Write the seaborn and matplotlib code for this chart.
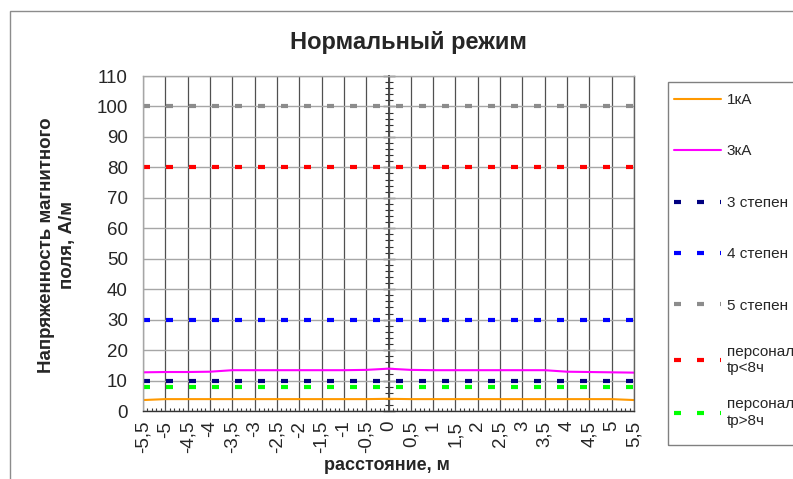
import numpy as np
import pandas as pd
import matplotlib
matplotlib.use("Agg")
import matplotlib.pyplot as plt
import seaborn as sns
from matplotlib.ticker import MultipleLocator, FixedLocator
from matplotlib.patches import Rectangle

# distance, m (category axis)
distance = [-5.5, -5, -4.5, -4, -3.5, -3, -2.5, -2, -1.5, -1, -0.5, 0,
            0.5, 1, 1.5, 2, 2.5, 3, 3.5, 4, 4.5, 5, 5.5]

h_1ka = [3.6, 3.9, 3.9, 3.9, 3.9, 3.9, 3.9, 3.9, 3.9, 3.9, 3.9, 4.0,
         3.9, 3.9, 3.9, 3.9, 3.9, 3.9, 3.9, 3.9, 3.9, 3.9, 3.6]
h_3ka = [12.7, 12.8, 12.8, 12.9, 13.4, 13.4, 13.4, 13.4, 13.4, 13.4, 13.5, 13.9,
         13.5, 13.4, 13.4, 13.4, 13.4, 13.4, 13.4, 12.9, 12.8, 12.7, 12.6]
lim_3 = [10] * 23
lim_4 = [30] * 23
lim_5 = [100] * 23
pers_lt8 = [80] * 23
pers_gt8 = [8] * 23

series = [
    ("1кА", h_1ka, "#FF9900", "solid"),
    ("3кА", h_3ka, "#FF00FF", "solid"),
    ("3 степен", lim_3, "#000080", "dash"),
    ("4 степен", lim_4, "#0000FF", "dash"),
    ("5 степен", lim_5, "#8C8C8C", "dash"),
    ("персонал\ntр<8ч", pers_lt8, "#FF0000", "dash"),
    ("персонал\ntр>8ч", pers_gt8, "#00FF00", "dash"),
]

sns.set_theme(style="white")
plt.rcParams['font.family'] = ['Liberation Sans', 'DejaVu Sans']

fig = plt.figure(figsize=(7.93, 4.79), dpi=100)
ax = fig.add_axes([143 / 793, 1 - 411 / 479, (634 - 143) / 793, (411 - 76) / 479])

for name, vals, col, kind in series:
    if kind == "solid":
        sns.lineplot(x=distance, y=vals, ax=ax, color=col, lw=1.5, label=name)
    else:
        sns.lineplot(x=distance, y=vals, ax=ax, color=col, lw=3,
                     linestyle=(0, (1.68, 3.84)), label=name)

ax.set_xlim(-5.5, 5.5)
ax.set_ylim(0, 110)
ax.xaxis.set_major_locator(FixedLocator(distance))
ax.xaxis.set_minor_locator(MultipleLocator(0.1))
ax.yaxis.set_major_locator(MultipleLocator(10))
ax.set_xticklabels([("%g" % v).replace(".", ",") for v in distance],
                   rotation=90, fontsize=13.5)
ax.tick_params(axis='y', labelsize=13.5, length=0, pad=11)
ax.tick_params(axis='x', which='major', direction='out', length=4, width=1,
               color='#333333', pad=3)
ax.tick_params(axis='x', which='minor', direction='in', length=2.5, width=0.8,
               color='#333333', bottom=True)
ax.set_axisbelow(True)
ax.grid(axis='y', color='#a6a6a6', lw=1)
ax.grid(axis='x', color='#505050', lw=0.9)
ax.set_xlabel("")
ax.set_ylabel("")
for s in ['top', 'left']:
    ax.spines[s].set_color('#a6a6a6')
ax.spines['right'].set_color('#606060')
ax.spines['bottom'].set_color('#333333')
for s in ax.spines.values():
    s.set_linewidth(1)

# value axis crossing at 0
sec = ax.secondary_yaxis(0.5)
sec.yaxis.set_major_locator(MultipleLocator(10))
sec.yaxis.set_minor_locator(MultipleLocator(2))
sec.tick_params(which='both', direction='inout', labelleft=False, labelright=False,
                color='#333333')
sec.tick_params(which='major', length=8, width=1)
sec.tick_params(which='minor', length=6, width=0.8)
for s in sec.spines.values():
    s.set_color('#333333')

# legend: Excel spreads entries evenly, so two frameless legends inside one box
handles, labels = ax.get_legend_handles_labels()
leg_kw = dict(loc='upper left', bbox_transform=fig.transFigure, borderaxespad=0,
              fontsize=11, handlelength=3.1, handletextpad=0.35, borderpad=0,
              frameon=False)
leg1 = ax.legend(handles[:5], labels[:5], bbox_to_anchor=(674 / 793, 1 - 93 / 479),
                 labelspacing=2.45, **leg_kw)
ax.add_artist(leg1)
leg2 = ax.legend(handles[5:], labels[5:], bbox_to_anchor=(674 / 793, 1 - 345 / 479),
                 labelspacing=1.45, **leg_kw)
fig.patches.append(Rectangle((668 / 793, 1 - 445 / 479), 0.5, (445 - 82) / 479,
                             transform=fig.transFigure, fill=False,
                             ec='#808080', lw=1, figure=fig))

fig.text(408 / 793, 1 - 43 / 479, "Нормальный режим", ha='center', va='center',
         fontsize=17, weight='bold')
fig.text(57 / 793, 1 - 245 / 479, "Напряженность магнитного\nполя, А/м", rotation=90,
         ha='center', va='center', multialignment='center', fontsize=13.5,
         weight='bold', linespacing=1.3)
fig.text(387 / 793, 1 - 466 / 479, "расстояние, м", ha='center', va='center',
         fontsize=13, weight='bold')

fig.patches.append(Rectangle((10 / 793, -0.1), 1.2, 1.1 - 11 / 479,
                             transform=fig.transFigure, fill=False,
                             ec='#8c8c8c', lw=1, figure=fig))

fig.savefig("out.png", dpi=100)
